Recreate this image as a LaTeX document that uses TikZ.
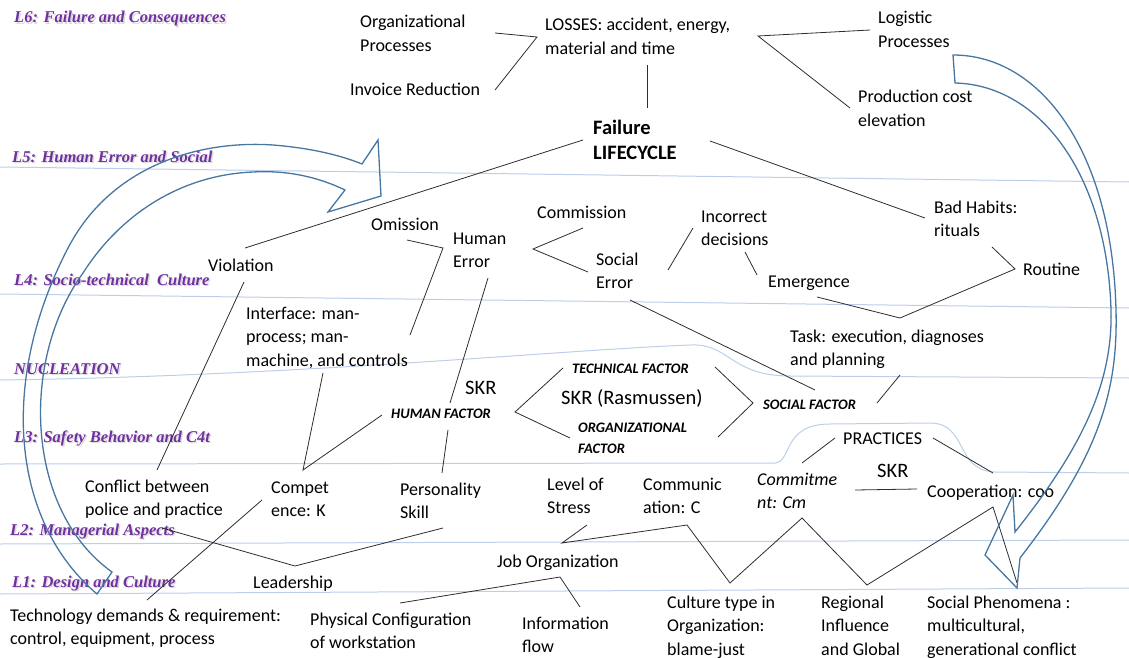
\documentclass[tikz,border=0pt]{standalone}
\usepackage{fontspec}
\setmainfont{Carlito}
\newfontfamily\lvlfont{Liberation Serif}
\usetikzlibrary{calc}

\definecolor{bandblue}{RGB}{188,206,234}
\definecolor{arrowblue}{RGB}{72,118,162}
\definecolor{lvlpurple}{RGB}{112,48,160}
\definecolor{linkgray}{RGB}{45,45,45}

% multi-line nodes are placed by the baseline of their last line
\tikzset{
  txt/.style={anchor=base west, align=left, inner sep=0pt, font=\fontsize{18}{23.5}\selectfont},
  bigtxt/.style={anchor=base west, align=left, inner sep=0pt, font=\fontsize{20.5}{25}\selectfont},
  factor/.style={anchor=base west, align=left, inner sep=0pt, font=\fontsize{14.5}{21}\selectfont\bfseries\itshape},
  lvl/.style={anchor=base west, inner sep=0pt, text=lvlpurple, font=\lvlfont\fontsize{16.5}{18}\selectfont\bfseries\itshape},
  lvlshadow/.style={anchor=base west, inner sep=0pt, text=black!14, font=\lvlfont\fontsize{16.5}{18}\selectfont\bfseries\itshape},
  link/.style={draw=linkgray, line width=0.8pt},
  band/.style={draw=bandblue, line width=1pt},
  bigarrow/.style={draw=arrowblue, line width=1.3pt, line join=miter}
}

\begin{document}
\begin{tikzpicture}[x=1pt, y=-1pt]
\useasboundingbox (0,0) rectangle (1129,658);

% level bands
\draw[band] (0,167) -- (1129,182);
\draw[band] (0,294) -- (1129,308);
\draw[band] (0,380) .. controls (300,376) and (560,350) .. (690,345)
            .. controls (730,343) and (730,376) .. (790,376) -- (1129,378);
\draw[band] (0,464) -- (775,463) .. controls (792,462) and (782,424) .. (830,424)
            -- (930,423) .. controls (968,423) and (955,471) .. (995,472) -- (1129,473);
\draw[band] (0,544) -- (1129,540);
\draw[band] (0,594) -- (1129,588);

% level names
\foreach \p/\t in {{(15.5,24.5)}/{L6: Failure and Consequences},
                   {(13.5,163.5)}/{L5: Human Error and Social},
                   {(15.5,286.5)}/{L4: Socio-technical\ \ Culture},
                   {(15.5,375.5)}/{NUCLEATION},
                   {(15.5,443.5)}/{L3: Safety Behavior and C4t},
                   {(11.5,536.5)}/{L2: Managerial Aspects},
                   {(13.5,588.5)}/{L1: Design and Culture}}
  \node[lvlshadow] at \p {\t};
\node[lvl] (l6) at (14,23) {L6: Failure and Consequences};
\node[lvl] (l5) at (12,162) {L5: Human Error and Social};
\node[lvl] (l4) at (14,285) {L4: Socio-technical\ \ Culture};
\node[lvl] (nuc) at (14,374) {NUCLEATION};
\node[lvl] (l3) at (14,442) {L3: Safety Behavior and C4t};
\node[lvl] (l2) at (10,535) {L2: Managerial Aspects};
\node[lvl] (l1) at (12,587) {L1: Design and Culture};

% texts
\node[txt] (org) at (360,51.5) {Organizational\\Processes};
\node[txt] (loss) at (545,54.5) {LOSSES: accident, energy,\\material and time};
\node[txt] (inv) at (350,96) {Invoice Reduction};
\node[txt] (logi) at (878,47.5) {Logistic\\Processes};
\node[txt] (prod) at (858,126.5) {Production cost\\elevation};
\node[bigtxt, font=\fontsize{20.5}{25}\selectfont\bfseries] (fail) at (593,159.5) {Failure\\LIFECYCLE};
\node[txt] (viol) at (208,271) {Violation};
\node[txt] (omi) at (371,230) {Omission};
\node[txt] (herr) at (453,267.5) {Human\\Error};
\node[txt] (comm) at (537,218) {Commission};
\node[txt] (serr) at (596,288.5) {Social\\Error};
\node[txt] (inc) at (701,245.5) {Incorrect\\decisions};
\node[txt] (eme) at (768,287) {Emergence};
\node[txt] (hab) at (934,236.5) {Bad Habits:\\rituals};
\node[txt] (rout) at (1023,275) {Routine};
\node[txt] (intf) at (246,366) {Interface: man-\\process; man-\\machine, and controls};
\node[txt] (task) at (790,365.5) {Task: execution, diagnoses\\and planning};
\node[factor] (tfac) at (572,373) {TECHNICAL FACTOR};
\node[bigtxt] (skrr) at (561,404) {SKR (Rasmussen)};
\node[bigtxt] (skra) at (465,394) {SKR};
\node[factor] (hfac) at (391,418) {HUMAN FACTOR};
\node[factor] (ofac) at (578,453) {ORGANIZATIONAL\\FACTOR};
\node[factor] (sfac) at (763,409) {SOCIAL FACTOR};
\node[txt] (prac) at (843,444) {PRACTICES};
\node[bigtxt] (skrb) at (877,477) {SKR};
\node[txt, font=\fontsize{18}{23.5}\selectfont\itshape] (cm) at (757,508.5) {Commitme\\nt: Cm};
\node[txt] (coop) at (927,497) {Cooperation: coo};
\node[txt] (confl) at (85,515.5) {Conflict between\\police and practice};
\node[txt] (comp) at (271,516.5) {Compet\\ence: K};
\node[txt] (pers) at (400,518.5) {Personality\\Skill};
\node[txt] (stress) at (547,513.5) {Level of\\Stress};
\node[txt] (commu) at (643,513.5) {Communic\\ation: C};
\node[txt] (lead) at (253,588) {Leadership};
\node[txt] (job) at (497,567) {Job Organization};
\node[txt] (tech) at (10,644.5) {Technology demands \& requirement:\\control, equipment, process};
\node[txt] (phys) at (310,648.5) {Physical Configuration\\of workstation};
\node[txt] (info) at (522,652.5) {Information\\flow};
\node[txt] (cult) at (667,655) {Culture type in\\Organization:\\blame-just};
\node[txt] (reg) at (821,655) {Regional\\Influence\\and Global};
\node[txt] (socp) at (927,655) {Social Phenomena :\\multicultural,\\generational conflict};

% connection points
\coordinate (orgE) at (495,33);
\coordinate (lossW) at (537,37);
\coordinate (invE) at (495,90);
\coordinate (lossS) at (647,65);
\coordinate (failN) at (647,108);
\coordinate (lossE) at (758,36);
\coordinate (logW) at (870,30);
\coordinate (prodW) at (850,108);
\coordinate (failW) at (583,140);
\coordinate (violN) at (245,248);
\coordinate (failE) at (710,141);
\coordinate (habW) at (925,218);
\coordinate (omiS) at (407,240);
\coordinate (herrW) at (443,248);
\coordinate (intfN) at (410,335);
\coordinate (comS) at (583,228);
\coordinate (herrE) at (533,249);
\coordinate (serrW) at (588,272);
\coordinate (herrS) at (488,278);
\coordinate (hfacN) at (450,403);
\coordinate (hfacS) at (448,430);
\coordinate (persN) at (442,473);
\coordinate (serrE) at (668,270);
\coordinate (incW) at (693,228);
\coordinate (incS) at (745,252);
\coordinate (emeN) at (757,275);
\coordinate (serrS) at (630,300);
\coordinate (sfacN) at (815,390);
\coordinate (emeS) at (817,297);
\coordinate (taskN) at (900,318);
\coordinate (routW) at (1015,269);
\coordinate (ritS) at (992,247);
\coordinate (taskS) at (900,375);
\coordinate (sfacE) at (877,403);
\coordinate (intfS) at (323,373);
\coordinate (compN) at (303,470);
\coordinate (hfacW) at (382,415);
\coordinate (violS) at (244,282);
\coordinate (conflN) at (157,470);
\coordinate (conflS) at (162,528);
\coordinate (leadN) at (295,566);
\coordinate (persS) at (443,528);
\coordinate (compW) at (262,500);
\coordinate (techN) at (147,600);
\coordinate (stressS) at (587,525);
\coordinate (jobN) at (562,543);
\coordinate (commuS) at (687,525);
\coordinate (cultN) at (730,583);
\coordinate (cmS) at (802,518);
\coordinate (regN) at (867,585);
\coordinate (coopS) at (993,507);
\coordinate (socpN) at (1017,583);
\coordinate (jobS) at (560,577);
\coordinate (physN) at (400,603);
\coordinate (infoN) at (580,607);
\coordinate (hfacE) at (515,412);
\coordinate (tfacW) at (563,368);
\coordinate (ofacW) at (570,438);
\coordinate (tfacE) at (715,367);
\coordinate (sfacW) at (753,403);
\coordinate (ofacE) at (718,437);
\coordinate (pracW) at (835,438);
\coordinate (cmN) at (802,463);
\coordinate (pracE) at (933,438);
\coordinate (coopN) at (993,473);
\coordinate (cmE) at (855,490);
\coordinate (coopW) at (917,489);

% connectors
\draw[link] (orgE) -- (lossW) -- (invE);
\draw[link] (lossS) -- (failN);
\draw[link] (logW) -- (lossE) -- (prodW);
\draw[link] (failW) -- (violN);
\draw[link] (failE) -- (habW);
\draw[link] (omiS) -- (herrW) -- (intfN);
\draw[link] (comS) -- (herrE) -- (serrW);
\draw[link] (herrS) -- (hfacN);
\draw[link] (hfacS) -- (persN);
\draw[link] (serrE) -- (incW);
\draw[link] (incS) -- (emeN);
\draw[link] (serrS) -- (sfacN);
\draw[link] (emeS) -- (taskN) -- (routW) -- (ritS);
\draw[link] (taskS) -- (sfacE);
\draw[link] (intfS) -- (compN) -- (hfacW);
\draw[link] (violS) -- (conflN);
\draw[link] (conflS) -- (leadN) -- (persS);
\draw[link] (compW) -- (techN);
\draw[link] (stressS) -- (jobN) -- (commuS) -- (cultN) -- (cmS) -- (regN) -- (coopS) -- (socpN);
\draw[link] (physN) -- (jobS) -- (infoN);
\draw[link] (tfacW) -- (hfacE) -- (ofacW);
\draw[link] (tfacE) -- (sfacW) -- (ofacE);
\draw[link] (pracW) -- (cmN);
\draw[link] (pracE) -- (coopN);
\draw[link] (cmE) -- (coopW);

% curved block arrows
\draw[bigarrow] (97,594) .. controls (10,520) and (0,380) .. (67,250)
   .. controls (110,165) and (200,140) .. (273,145)
   .. controls (310,148) and (340,155) .. (362,164)
   -- (378,140) -- (381,196) -- (328,212) -- (345,190)
   .. controls (320,178) and (290,170) .. (253,172)
   .. controls (180,175) and (120,215) .. (83,273)
   .. controls (20,360) and (25,510) .. (112,572) -- cycle;
\draw[bigarrow] (953,55) .. controls (1040,55) and (1112,150) .. (1116,310)
   .. controls (1118,390) and (1100,455) .. (1020,558)
   -- (1017,588) -- (985,555) -- (1013,495) -- (1015,532)
   .. controls (1080,450) and (1113,385) .. (1111,310)
   .. controls (1107,175) and (1040,85) .. (955,83) -- cycle;
\end{tikzpicture}
\end{document}
